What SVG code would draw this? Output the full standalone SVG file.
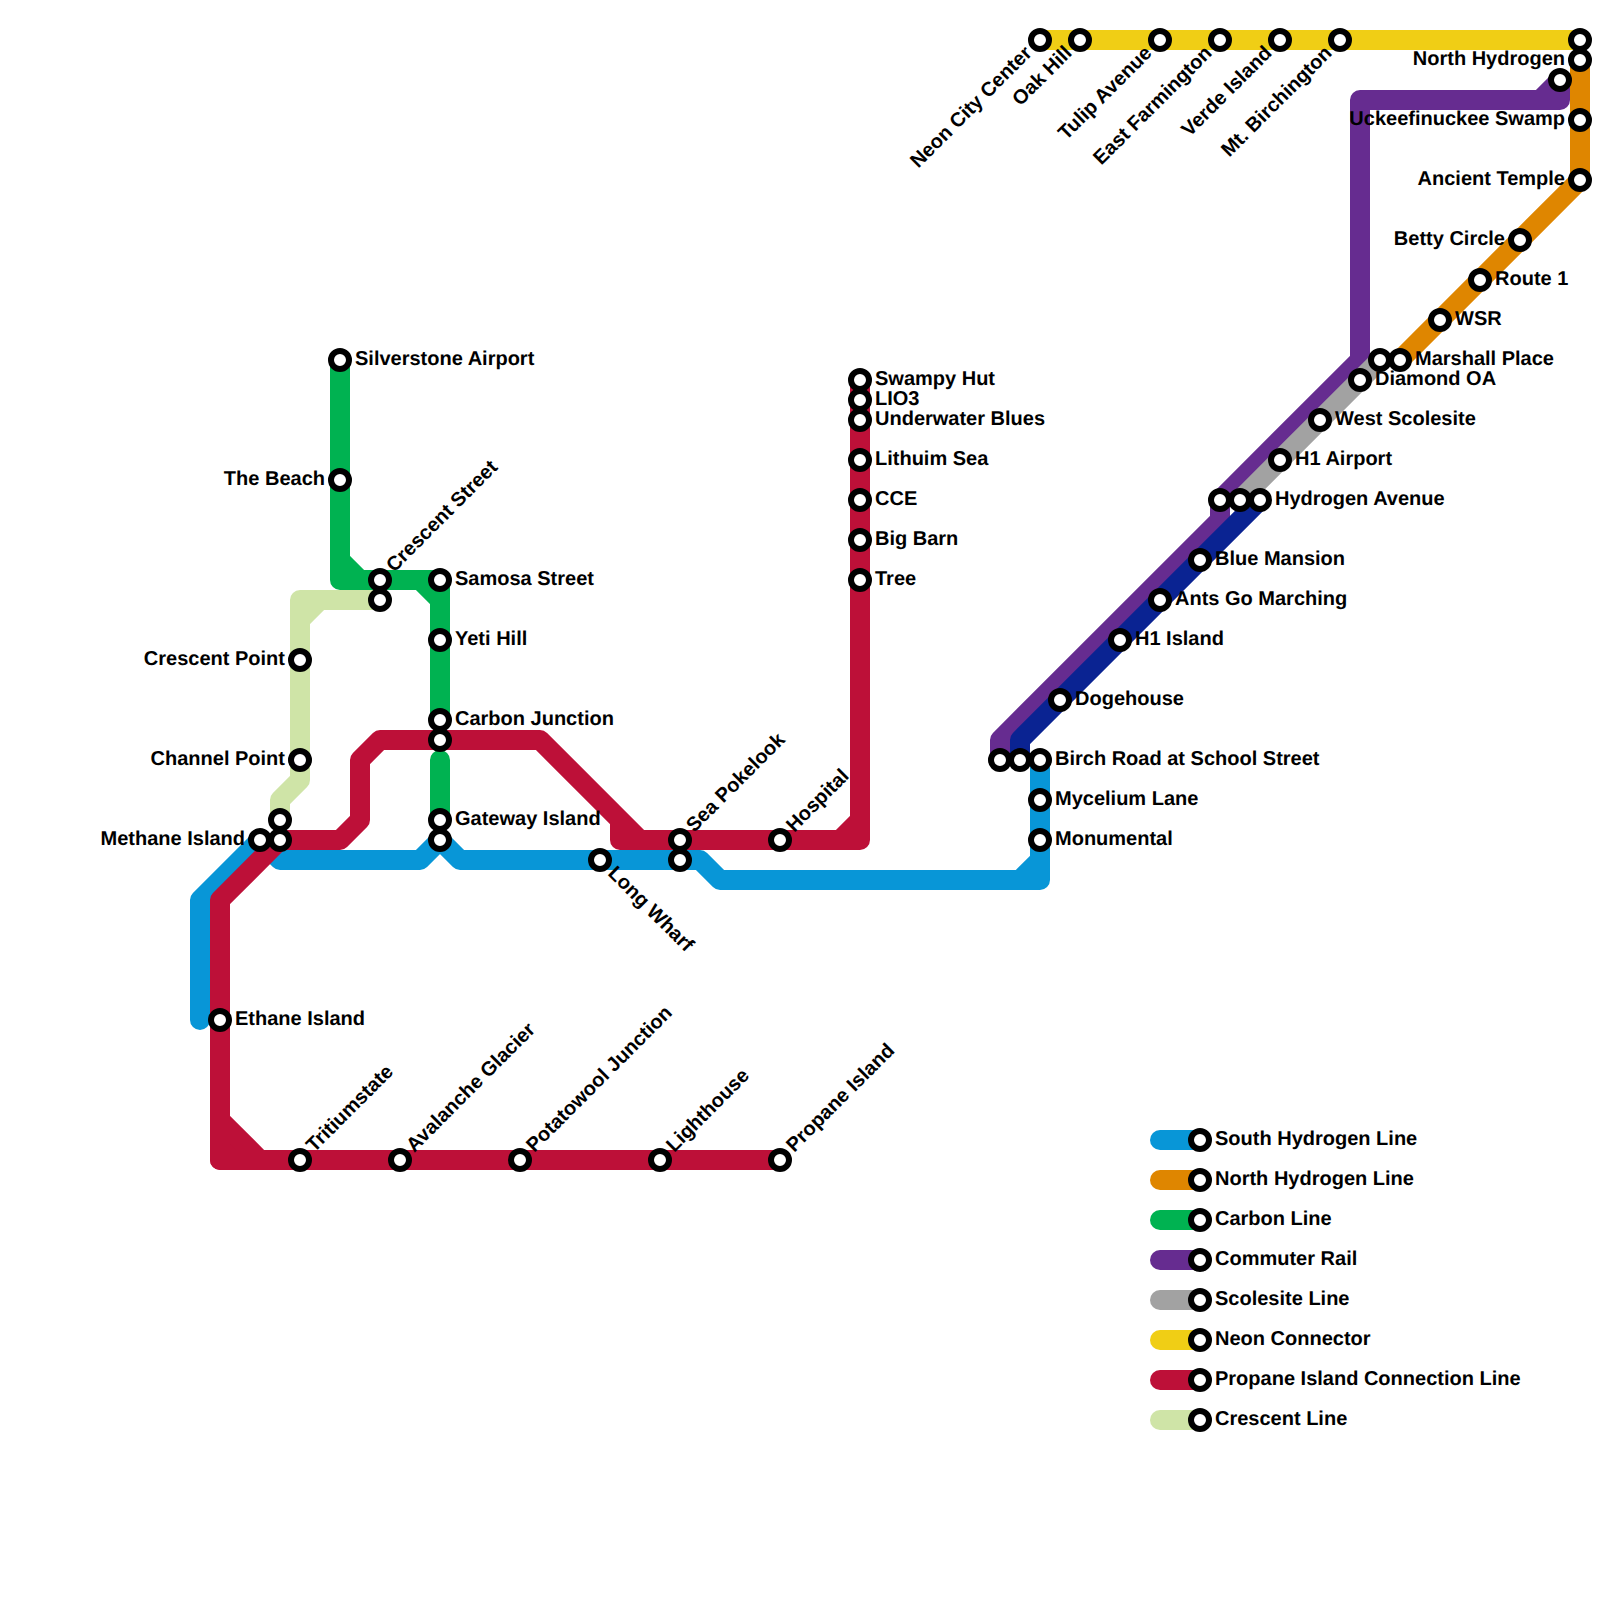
<svg xmlns="http://www.w3.org/2000/svg" width="1600" height="1600" viewBox="0 0 1600 1600">
<style>
text{font-family:"Liberation Sans",Arial,sans-serif;font-weight:700;font-size:20px;fill:#000;text-rendering:geometricPrecision}
.e{text-anchor:end}
circle{fill:#fff;stroke:#000;stroke-width:6}
.l{fill:none;stroke-width:20;stroke-linecap:round;stroke-linejoin:round}
.blue{stroke:#0896d7}.orange{stroke:#df8600}.green{stroke:#00b251}.purple{stroke:#662c90}.gray{stroke:#a2a2a2}.navy{stroke:#0a2392}.yellow{stroke:#f0ce15}.red{stroke:#bd1038}.lime{stroke:#cfe4a7}
</style>
<rect width="1600" height="1600" fill="#fff"/>
<g id="connectors">
<path class="l blue" d="M200 1020V900L260 840L280 860H420L440 840L460 860H700L720 880H1040V760M1040 860L1020 880"/>
<path class="l orange" d="M1400 360L1580 180V60"/>
<path class="l green" d="M340 360V580H440V600V720M340 560L360 580M420 580L440 600M440 760V820"/>
<path class="l purple" d="M1000 760V740L1220 520V500L1360 360V100H1560V80L1540 100"/>
<path class="l gray" d="M1240 500L1380 360"/>
<path class="l navy" d="M1020 760V740L1260 500"/>
<path class="l yellow" d="M1040 40H1580"/>
<path class="l red" style="fill:#bd1038" d="M220 1120L260 1160H220Z"/>
<path class="l red" d="M780 1160H220V900L280 840H340L360 820V760L380 740H540L640 840H620V820M640 840H860V380M860 820L840 840"/>
<path class="l lime" d="M380 600H300V780L280 800V820M300 620L320 600"/>
</g>
<g id="legend">
<path class="l blue" d="M1160 1140H1200"/>
<path class="l orange" d="M1160 1180H1200"/>
<path class="l green" d="M1160 1220H1200"/>
<path class="l purple" d="M1160 1260H1200"/>
<path class="l gray" d="M1160 1300H1200"/>
<path class="l yellow" d="M1160 1340H1200"/>
<path class="l red" d="M1160 1380H1200"/>
<path class="l lime" d="M1160 1420H1200"/>
<circle cx="1200" cy="1140" r="9"/><text x="1215" y="1145">South Hydrogen Line</text>
<circle cx="1200" cy="1180" r="9"/><text x="1215" y="1185">North Hydrogen Line</text>
<circle cx="1200" cy="1220" r="9"/><text x="1215" y="1225">Carbon Line</text>
<circle cx="1200" cy="1260" r="9"/><text x="1215" y="1265">Commuter Rail</text>
<circle cx="1200" cy="1300" r="9"/><text x="1215" y="1305">Scolesite Line</text>
<circle cx="1200" cy="1340" r="9"/><text x="1215" y="1345">Neon Connector</text>
<circle cx="1200" cy="1380" r="9"/><text x="1215" y="1385">Propane Island Connection Line</text>
<circle cx="1200" cy="1420" r="9"/><text x="1215" y="1425">Crescent Line</text>
</g>
<g id="n-silverstone"><circle cx="340" cy="360" r="9"/><text x="355" y="365">Silverstone Airport</text></g>
<g id="n-beach"><circle cx="340" cy="480" r="9"/><text class="e" x="325" y="485">The Beach</text></g>
<g id="n-crescent-street"><circle cx="380" cy="580" r="9"/><text x="395" y="585" transform="rotate(-45 380 580)">Crescent Street</text></g>
<g id="n-crescent-end"><circle cx="380" cy="600" r="9"/></g>
<g id="n-samosa"><circle cx="440" cy="580" r="9"/><text x="455" y="585">Samosa Street</text></g>
<g id="n-yeti"><circle cx="440" cy="640" r="9"/><text x="455" y="645">Yeti Hill</text></g>
<g id="n-carbon"><circle cx="440" cy="720" r="9"/><text x="455" y="725">Carbon Junction</text></g>
<g id="n-carbon2"><circle cx="440" cy="740" r="9"/></g>
<g id="n-gateway"><circle cx="440" cy="820" r="9"/><text x="455" y="825">Gateway Island</text></g>
<g id="n-gateway2"><circle cx="440" cy="840" r="9"/></g>
<g id="n-crescent-point"><circle cx="300" cy="660" r="9"/><text class="e" x="285" y="665">Crescent Point</text></g>
<g id="n-channel"><circle cx="300" cy="760" r="9"/><text class="e" x="285" y="765">Channel Point</text></g>
<g id="n-m1"><circle cx="280" cy="820" r="9"/></g>
<g id="n-m2"><circle cx="280" cy="840" r="9"/></g>
<g id="n-methane"><circle cx="260" cy="840" r="9"/><text class="e" x="245" y="845">Methane Island</text></g>
<g id="n-ethane"><circle cx="220" cy="1020" r="9"/><text x="235" y="1025">Ethane Island</text></g>
<g id="n-tritium"><circle cx="300" cy="1160" r="9"/><text x="315" y="1165" transform="rotate(-45 300 1160)">Tritiumstate</text></g>
<g id="n-avalanche"><circle cx="400" cy="1160" r="9"/><text x="415" y="1165" transform="rotate(-45 400 1160)">Avalanche Glacier</text></g>
<g id="n-potatowool"><circle cx="520" cy="1160" r="9"/><text x="535" y="1165" transform="rotate(-45 520 1160)">Potatowool Junction</text></g>
<g id="n-lighthouse"><circle cx="660" cy="1160" r="9"/><text x="675" y="1165" transform="rotate(-45 660 1160)">Lighthouse</text></g>
<g id="n-propane"><circle cx="780" cy="1160" r="9"/><text x="795" y="1165" transform="rotate(-45 780 1160)">Propane Island</text></g>
<g id="n-long-wharf"><circle cx="600" cy="860" r="9"/><text x="615" y="865" transform="rotate(45 600 860)">Long Wharf</text></g>
<g id="n-sea"><circle cx="680" cy="840" r="9"/><text x="695" y="845" transform="rotate(-45 680 840)">Sea Pokelook</text></g>
<g id="n-sea2"><circle cx="680" cy="860" r="9"/></g>
<g id="n-hospital"><circle cx="780" cy="840" r="9"/><text x="795" y="845" transform="rotate(-45 780 840)">Hospital</text></g>
<g id="n-swampy"><circle cx="860" cy="380" r="9"/><text x="875" y="385">Swampy Hut</text></g>
<g id="n-lio3"><circle cx="860" cy="400" r="9"/><text x="875" y="405">LIO3</text></g>
<g id="n-underwater"><circle cx="860" cy="420" r="9"/><text x="875" y="425">Underwater Blues</text></g>
<g id="n-lithuim"><circle cx="860" cy="460" r="9"/><text x="875" y="465">Lithuim Sea</text></g>
<g id="n-cce"><circle cx="860" cy="500" r="9"/><text x="875" y="505">CCE</text></g>
<g id="n-barn"><circle cx="860" cy="540" r="9"/><text x="875" y="545">Big Barn</text></g>
<g id="n-tree"><circle cx="860" cy="580" r="9"/><text x="875" y="585">Tree</text></g>
<g id="n-b1"><circle cx="1000" cy="760" r="9"/></g>
<g id="n-b2"><circle cx="1020" cy="760" r="9"/></g>
<g id="n-birch"><circle cx="1040" cy="760" r="9"/><text x="1055" y="765">Birch Road at School Street</text></g>
<g id="n-mycelium"><circle cx="1040" cy="800" r="9"/><text x="1055" y="805">Mycelium Lane</text></g>
<g id="n-monumental"><circle cx="1040" cy="840" r="9"/><text x="1055" y="845">Monumental</text></g>
<g id="n-doge"><circle cx="1060" cy="700" r="9"/><text x="1075" y="705">Dogehouse</text></g>
<g id="n-h1island"><circle cx="1120" cy="640" r="9"/><text x="1135" y="645">H1 Island</text></g>
<g id="n-ants"><circle cx="1160" cy="600" r="9"/><text x="1175" y="605">Ants Go Marching</text></g>
<g id="n-blue"><circle cx="1200" cy="560" r="9"/><text x="1215" y="565">Blue Mansion</text></g>
<g id="n-h1"><circle cx="1220" cy="500" r="9"/></g>
<g id="n-h2"><circle cx="1240" cy="500" r="9"/></g>
<g id="n-hydrogen"><circle cx="1260" cy="500" r="9"/><text x="1275" y="505">Hydrogen Avenue</text></g>
<g id="n-h1airport"><circle cx="1280" cy="460" r="9"/><text x="1295" y="465">H1 Airport</text></g>
<g id="n-west"><circle cx="1320" cy="420" r="9"/><text x="1335" y="425">West Scolesite</text></g>
<g id="n-diamond"><circle cx="1360" cy="380" r="9"/><text x="1375" y="385">Diamond OA</text></g>
<g id="n-gray-end"><circle cx="1380" cy="360" r="9"/></g>
<g id="n-marshall"><circle cx="1400" cy="360" r="9"/><text x="1415" y="365">Marshall Place</text></g>
<g id="n-wsr"><circle cx="1440" cy="320" r="9"/><text x="1455" y="325">WSR</text></g>
<g id="n-route1"><circle cx="1480" cy="280" r="9"/><text x="1495" y="285">Route 1</text></g>
<g id="n-betty"><circle cx="1520" cy="240" r="9"/><text class="e" x="1505" y="245">Betty Circle</text></g>
<g id="n-ancient"><circle cx="1580" cy="180" r="9"/><text class="e" x="1565" y="185">Ancient Temple</text></g>
<g id="n-uck"><circle cx="1580" cy="120" r="9"/><text class="e" x="1565" y="125">Uckeefinuckee Swamp</text></g>
<g id="n-purple-end"><circle cx="1560" cy="80" r="9"/></g>
<g id="n-north"><circle cx="1580" cy="60" r="9"/><text class="e" x="1565" y="65">North Hydrogen</text></g>
<g id="n-yellow-end"><circle cx="1580" cy="40" r="9"/></g>
<g id="n-neon"><circle cx="1040" cy="40" r="9"/><text class="e" x="1025" y="45" transform="rotate(-45 1040 40)">Neon City Center</text></g>
<g id="n-oak"><circle cx="1080" cy="40" r="9"/><text class="e" x="1065" y="45" transform="rotate(-45 1080 40)">Oak Hill</text></g>
<g id="n-tulip"><circle cx="1160" cy="40" r="9"/><text class="e" x="1145" y="45" transform="rotate(-45 1160 40)">Tulip Avenue</text></g>
<g id="n-east"><circle cx="1220" cy="40" r="9"/><text class="e" x="1205" y="45" transform="rotate(-45 1220 40)">East Farmington</text></g>
<g id="n-verde"><circle cx="1280" cy="40" r="9"/><text class="e" x="1265" y="45" transform="rotate(-45 1280 40)">Verde Island</text></g>
<g id="n-mt"><circle cx="1340" cy="40" r="9"/><text class="e" x="1325" y="45" transform="rotate(-45 1340 40)">Mt. Birchington</text></g>
</svg>
